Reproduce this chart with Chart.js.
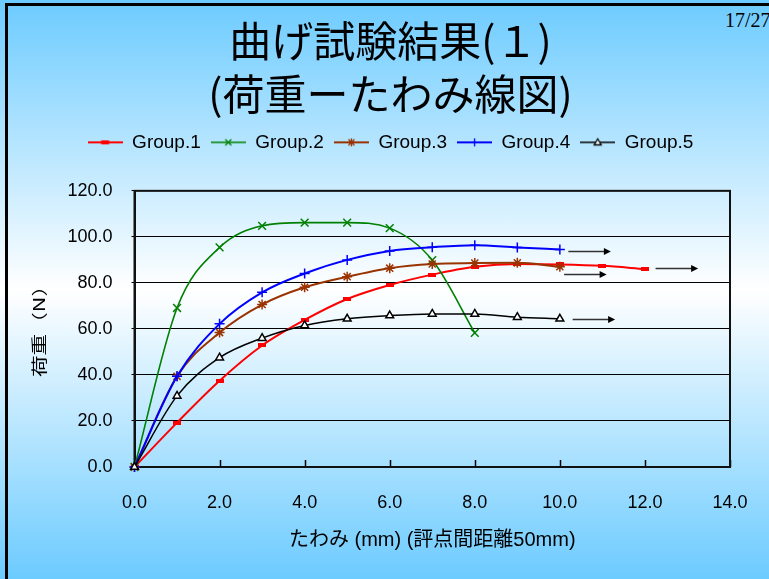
<!DOCTYPE html>
<html lang="ja">
<head>
<meta charset="utf-8">
<title>曲げ試験結果(１)</title>
<script src="https://cdn.jsdelivr.net/npm/chart.js@4/dist/chart.umd.min.js"></script>
<style>
  html, body { margin: 0; padding: 0; }
  body {
    width: 769px; height: 579px; overflow: hidden; position: relative;
    background: linear-gradient(to bottom, #6ccbff 0%, #ffffff 50%, #6ccbff 100%);
  }
  .edge-top { position: absolute; left: 5px; top: 3px; right: 0; height: 3px; background: #000; }
  .edge-left { position: absolute; left: 5px; top: 3px; bottom: 0; width: 3px; background: #000; }
  #page { position: absolute; left: 725px; top: 9px; font: 20px "Liberation Serif", serif; color: #000; white-space: nowrap; }
  #box { position: absolute; left: 0; top: 0; width: 769px; height: 579px; }
</style>
</head>
<body>
<div class="edge-top"></div>
<div class="edge-left"></div>
<div id="page">17/27</div>
<div id="box"><canvas id="chart" width="769" height="579"></canvas></div>
<script>
// たわみ (mm) at each measuring step
const deflection = [0, 1, 2, 3, 4, 5, 6, 7, 8, 9, 10, 11, 12];

// 荷重 (N) per group
const group1 = [0, 19.3, 37.5, 52.8, 63.9, 73.0, 79.1, 83.6, 87.0, 88.2, 88.0, 87.4, 86.0];
const group2 = [0, 69.1, 95.4, 104.8, 106.2, 106.2, 103.8, 89.9, 58.3];
const group3 = [0, 39.4, 58.4, 70.6, 78.1, 82.7, 86.4, 88.2, 88.6, 88.7, 87.0];
const group4 = [0, 39.4, 62.2, 75.9, 84.1, 90.0, 93.9, 95.5, 96.4, 95.4, 94.5];
const group5 = [0, 30.9, 47.5, 56.0, 61.5, 64.4, 65.8, 66.5, 66.5, 65.1, 64.4];

const seriesNames = ['Group.1', 'Group.2', 'Group.3', 'Group.4', 'Group.5'];

// tick marks of both axes
const xTicks = [0, 2, 4, 6, 8, 10, 12, 14];
const yTicks = [0, 20, 40, 60, 80, 100, 120];

// "test continues" arrows: start / end deflection and load level
const continuation = [
  { from: 10.2, to: 11.2, load: 93.8 },
  { from: 12.25, to: 13.25, load: 86.4 },
  { from: 10.1, to: 11.1, load: 83.7 },
  { from: 10.3, to: 11.3, load: 64.1 }
];

const pairs = vals => vals.map((v, i) => ({ x: deflection[i], y: v }));

// small red bar used as the Group.1 marker
function barMark(color, w, h) {
  const c = document.createElement('canvas');
  c.width = w; c.height = h;
  const g = c.getContext('2d');
  g.fillStyle = color;
  g.fillRect(0, 0, w, h);
  return c;
}
const redBar = barMark('#ff0000', 8, 4);

const styles = [
  { color: '#ff0000', width: 2,   point: redBar,     radius: 4,   fill: '#ff0000' },
  { color: '#008000', width: 1.6, point: 'crossRot', radius: 5.5, fill: '#008000' },
  { color: '#993300', width: 2,   point: 'star',     radius: 5,   fill: '#993300' },
  { color: '#0000ff', width: 2,   point: 'cross',    radius: 5,   fill: '#0000ff' },
  { color: '#000000', width: 1.5, point: 'triangle', radius: 4.5, fill: '#ffffff' }
];

// legend sample: short line with the marker in the middle
function legendIcon(st) {
  const w = 35, h = 12, cx = w / 2, cy = h / 2;
  const c = document.createElement('canvas');
  c.width = w; c.height = h;
  const g = c.getContext('2d');
  g.strokeStyle = st.color;
  g.lineWidth = st.width;
  g.beginPath(); g.moveTo(0, cy); g.lineTo(w, cy); g.stroke();
  g.lineWidth = 1.3;
  const r = 3;
  if (st.point === 'crossRot' || st.point === 'star') {
    g.beginPath();
    g.moveTo(cx - r, cy - r); g.lineTo(cx + r, cy + r);
    g.moveTo(cx - r, cy + r); g.lineTo(cx + r, cy - r);
    g.stroke();
  }
  if (st.point === 'cross' || st.point === 'star') {
    g.beginPath();
    g.moveTo(cx, cy - r - 1); g.lineTo(cx, cy + r + 1);
    g.moveTo(cx - r - 1, cy); g.lineTo(cx + r + 1, cy);
    g.stroke();
  }
  if (st.point === 'triangle') {
    g.beginPath();
    g.moveTo(cx, cy - 3.5); g.lineTo(cx + 3.5, cy + 2.5); g.lineTo(cx - 3.5, cy + 2.5); g.closePath();
    g.fillStyle = '#fff'; g.fill(); g.stroke();
  }
  if (typeof st.point === 'object') {
    g.fillStyle = st.color;
    g.fillRect(cx - 4, cy - 2, 8, 4);
  }
  return c;
}
const legendIcons = styles.map(legendIcon);

const seriesValues = [group1, group2, group3, group4, group5];
const datasets = seriesValues.map((vals, i) => ({
  label: seriesNames[i],
  data: pairs(vals),
  xAxisID: 'x',
  yAxisID: 'y',
  order: seriesValues.length - i,
  borderColor: styles[i].color,
  borderWidth: styles[i].width,
  backgroundColor: styles[i].color,
  cubicInterpolationMode: 'monotone',
  pointStyle: styles[i].point,
  pointRadius: styles[i].radius,
  pointBorderWidth: 1.5,
  pointBorderColor: styles[i].color,
  pointBackgroundColor: styles[i].fill,
  clip: false
}));

const latin = "'Liberation Sans', Arial, 'Noto Sans CJK JP', sans-serif";
const cjk = "'Noto Sans CJK JP', 'Liberation Sans', sans-serif";

// plot frame, inner x tick marks, continuation arrows and the load axis caption
const decorations = {
  id: 'decorations',
  beforeDatasetsDraw(chart) {
    const { ctx, chartArea: a, scales } = chart;
    ctx.save();
    ctx.strokeStyle = '#000';
    ctx.lineWidth = 1.5;
    ctx.beginPath();
    xTicks.forEach(v => {
      const px = Math.round(scales.x.getPixelForValue(v)) + 0.5;
      ctx.moveTo(px, a.bottom);
      ctx.lineTo(px, a.bottom - 7);
    });
    ctx.stroke();
    ctx.lineWidth = 2;
    ctx.strokeStyle = '#111';
    ctx.strokeRect(a.left, a.top, a.right - a.left, a.bottom - a.top);
    ctx.restore();
  },
  afterDraw(chart) {
    const { ctx, scales } = chart;
    ctx.save();
    continuation.forEach(c => {
      const x0 = scales.x.getPixelForValue(c.from);
      const x1 = scales.x.getPixelForValue(c.to);
      const y = Math.round(scales.y.getPixelForValue(c.load)) + 0.5;
      ctx.strokeStyle = '#333';
      ctx.lineWidth = 1.5;
      ctx.beginPath(); ctx.moveTo(x0, y); ctx.lineTo(x1 - 6, y); ctx.stroke();
      ctx.fillStyle = '#000';
      ctx.beginPath();
      ctx.moveTo(x1, y); ctx.lineTo(x1 - 7, y - 3.5); ctx.lineTo(x1 - 7, y + 3.5); ctx.closePath();
      ctx.fill();
    });
    ctx.fillStyle = '#000';
    ctx.font = "16px " + cjk;
    ctx.textAlign = 'center';
    ctx.textBaseline = 'middle';
    ctx.translate(39, 326);
    ctx.rotate(-Math.PI / 2);
    ctx.scale(1.35, 1);
    ctx.fillText('荷重（N）', 0, 0);
    ctx.restore();
  }
};

new Chart(document.getElementById('chart'), {
  type: 'line',
  data: { datasets },
  plugins: [decorations],
  options: {
    responsive: false,
    animation: false,
    events: [],
    layout: { padding: { left: 12, right: 0, top: 0, bottom: 0 } },
    plugins: {
      title: {
        display: true,
        text: ['曲げ試験結果(１)', '(荷重ーたわみ線図)'],
        color: '#000',
        font: { family: cjk, size: 42, weight: 'normal', lineHeight: 1.26 },
        padding: { top: 15, bottom: 2 }
      },
      legend: {
        display: true,
        labels: {
          usePointStyle: true,
          pointStyleWidth: 35,
          boxHeight: 12,
          padding: 10,
          color: '#000',
          font: { family: latin, size: 19 },
          generateLabels: chart => chart.data.datasets.map((ds, i) => ({
            text: ds.label,
            pointStyle: legendIcons[i],
            fillStyle: ds.borderColor,
            strokeStyle: ds.borderColor,
            lineWidth: 0,
            hidden: false,
            datasetIndex: i
          }))
        }
      },
      tooltip: { enabled: false }
    },
    scales: {
      x: {
        type: 'linear',
        position: 'bottom',
        min: xTicks[0],
        max: xTicks[xTicks.length - 1],
        afterBuildTicks: s => { s.ticks = xTicks.map(v => ({ value: v })); },
        grid: { display: false },
        border: { display: true, color: '#111', width: 2 },
        ticks: {
          color: '#000',
          font: { family: latin, size: 18 },
          padding: 17,
          maxRotation: 0,
          callback: v => v.toFixed(1)
        },
        title: {
          display: true,
          text: 'たわみ (mm) (評点間距離50mm)',
          color: '#000',
          font: { family: latin, size: 20 },
          padding: { top: 0, bottom: 27 }
        },
        afterFit: s => { s.height = 112; }
      },
      y: {
        type: 'linear',
        position: 'left',
        min: yTicks[0],
        max: yTicks[yTicks.length - 1],
        afterBuildTicks: s => { s.ticks = yTicks.map(v => ({ value: v })); },
        grid: { color: '#000', lineWidth: 1, tickLength: 3, drawTicks: true },
        border: { display: true, color: '#111', width: 2 },
        ticks: {
          color: '#000',
          font: { family: latin, size: 18 },
          padding: 19,
          callback: v => v.toFixed(1)
        },
        afterFit: s => { s.width = 122.5; }
      },
      spacerRight: {
        type: 'linear',
        position: 'right',
        display: true,
        grid: { display: false },
        border: { display: false },
        ticks: { display: false },
        afterFit: s => { s.width = 39; }
      },
      spacerTop: {
        type: 'linear',
        position: 'top',
        display: true,
        grid: { display: false },
        border: { display: false },
        ticks: { display: false },
        afterFit: s => { s.height = 29; }
      }
    }
  }
});
</script>
</body>
</html>
